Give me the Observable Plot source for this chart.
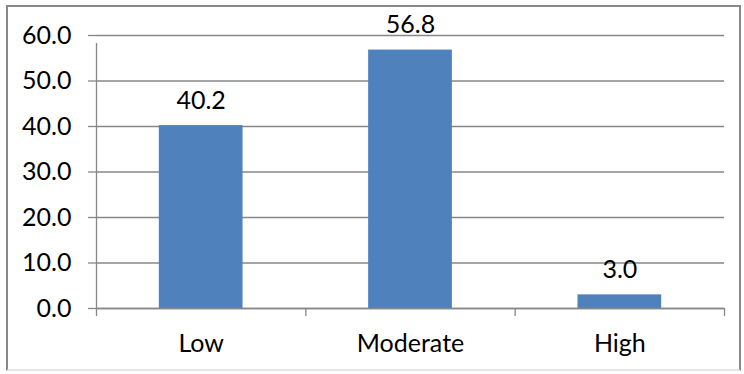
<!DOCTYPE html>
<html>
<head>
<meta charset="utf-8">
<script src="https://cdn.jsdelivr.net/npm/d3@7"></script>
<script src="https://cdn.jsdelivr.net/npm/@observablehq/plot@0.6"></script>
<style>
  html, body { margin: 0; padding: 0; background: #fff; }
  #wrap { position: relative; width: 744px; height: 374px; }
  #border { position: absolute; left: 6px; top: 5px; width: 735px; height: 366px; border: 2px solid #898989; border-bottom-color: #e6e6e6; box-sizing: border-box; }
  #chart { position: absolute; left: 0; top: 0; }
</style>
</head>
<body>
<div id="wrap"><div id="border"></div><div id="chart"></div></div>
<script>
const categories = ["Low", "Moderate", "High"];
const values = [40.2, 56.8, 3.0];
const yTicks = [0, 10, 20, 30, 40, 50, 60];

const data = categories.map((c, i) => ({category: c, index: i, value: values[i]}));
const boundaries = d3.range(categories.length + 1);
const font = "Lato, 'Open Sans', sans-serif";
const fs = 25;

const chart = Plot.plot({
  width: 744,
  height: 374,
  marginLeft: 96,
  marginRight: 20,
  marginTop: 35,
  marginBottom: 66,
  style: {fontFamily: font, fontSize: fs + "px", color: "#000", background: "transparent"},
  x: {type: "linear", domain: [0, categories.length], axis: null},
  y: {domain: [0, 60], axis: null},
  marks: [
    Plot.gridY(yTicks, {stroke: "#878787", strokeOpacity: 1, strokeWidth: 1.3}),
    Plot.axisY(yTicks, {tickSize: 8, tickPadding: 17, stroke: "#878787", strokeWidth: 1.3, tickFormat: d3.format(".1f"), fontSize: fs, fill: "#000", label: null}),
    Plot.rectY(data, {x1: d => d.index + 0.3, x2: d => d.index + 0.7, y: "value", fill: "#4F81BD"}),
    Plot.ruleX([0], {y1: 0, y2: 60, insetBottom: -8, stroke: "#878787", strokeWidth: 1.3}),
    Plot.ruleX(boundaries, {y1: 0, y2: 0, insetBottom: -8, stroke: "#878787", strokeWidth: 1.3}),
    Plot.ruleY([0], {stroke: "#878787", strokeWidth: 1.3}),
    Plot.text(data, {x: d => d.index + 0.5, y: "value", text: d => d3.format(".1f")(d.value), dy: -25, fontSize: fs, fill: "#000"}),
    Plot.axisX(data.map(d => d.index + 0.5), {tickSize: 0, tickPadding: 0, dy: 26, tickFormat: v => categories[Math.floor(v)], fontSize: fs, fill: "#000", label: null})
  ]
});
document.getElementById("chart").appendChild(chart);
</script>
</body>
</html>
